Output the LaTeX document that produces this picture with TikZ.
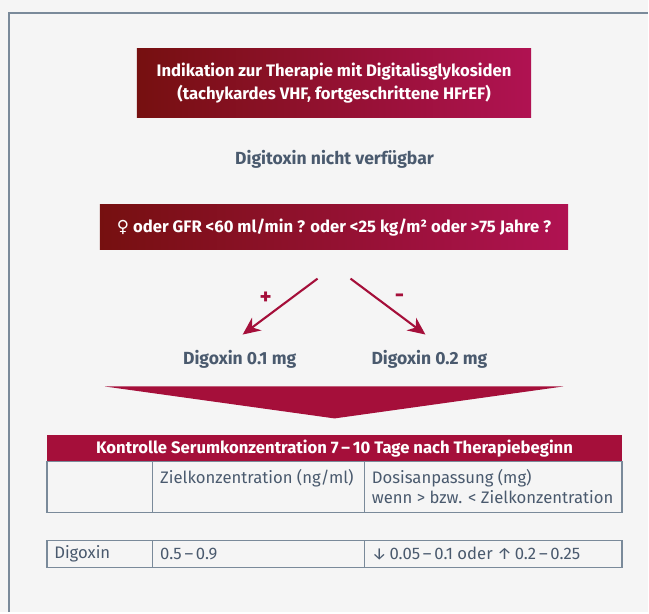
\documentclass[tikz,border=0pt]{standalone}
\usepackage{fontspec}
\setmainfont{Fira Sans}
\newfontfamily\symfont{DejaVu Sans}
\usepackage{tikz}
\usetikzlibrary{arrows.meta,positioning}
\usepackage{xcolor}
\definecolor{dgbg}{RGB}{245,245,245}
\definecolor{dgframe}{RGB}{122,138,154}
\definecolor{dgdark}{RGB}{118,16,16}
\definecolor{dgmagenta}{RGB}{176,18,82}
\definecolor{dgcrimson}{RGB}{165,15,58}
\definecolor{dggray}{RGB}{74,90,110}
\tikzstyle{arrow} = [line width=1.2pt,-{Stealth[length=10pt,width=9pt]},color=dgcrimson]
\tikzstyle{redbox} = [rectangle, left color=dgdark, right color=dgmagenta, text=white, font=\bfseries\fontsize{9.5}{13}\selectfont, align=center, inner sep=0pt]
\tikzstyle{graytext} = [text=dggray, font=\bfseries\fontsize{10}{12}\selectfont]
\tikzstyle{sign} = [text=dgcrimson, font=\bfseries\fontsize{13}{14}\selectfont]
\tikzstyle{cell} = [draw=dgframe, line width=0.8pt]
\tikzstyle{celltext} = [text=dggray, font=\fontsize{9.5}{11.5}\selectfont, align=left, inner sep=0pt]

\begin{document}
\begin{tikzpicture}[x=0.02cm, y=-0.02cm]
    % Background and frame
    \fill[dgbg] (0,0) rectangle (649,613);
    \draw[dgframe, line width=1pt] (9,613) -- (9,13) -- (649,13);

    % Indication
    \node[redbox, minimum width=7.9cm, minimum height=1.38cm] (indik) at (334.5,83.5) {Indikation zur Therapie mit Digitalisglykosiden\\(tachykardes VHF, fortgeschrittene HFrEF)};
    \node[graytext] (digitoxin) at (335,160) {Digitoxin nicht verfügbar};
    \node[redbox, minimum width=9.38cm, minimum height=0.9cm] (frage) at (334.5,227.5) {{\symfont ♀} oder GFR <60 ml/min ? oder <25 kg/m² oder >75 Jahre ?};

    % Branches
    \coordinate (lstart) at (318,279);
    \coordinate (lend) at (243,335);
    \coordinate (rstart) at (351,279);
    \coordinate (rend) at (426,335);
    \draw[arrow] (lstart) -- (lend);
    \draw[arrow] (rstart) -- (rend);
    \node[sign] (plus) at (266,299) {+};
    \node[sign] (minus) at (400,299) {-};
    \node[graytext] (dig1) at (240,360) {Digoxin 0.1 mg};
    \node[graytext] (dig2) at (430,360) {Digoxin 0.2 mg};

    % Funnel
    \fill[dgcrimson] (105,387) -- (564,387) -- (335,419) -- cycle;

    % Table
    \node[fill=dgcrimson, text=white, font=\bfseries\fontsize{9.5}{12}\selectfont, minimum width=11.52cm, minimum height=0.52cm, inner sep=0pt] (kopf) at (335,449) {Kontrolle Serumkonzentration 7\,–\,10 Tage nach Therapiebeginn};
    \draw[cell] (47,462) rectangle (623,513);
    \draw[cell] (153,462) -- (153,513);
    \draw[cell] (365,462) -- (365,513);
    \node[celltext, anchor=north west] (ziel) at (160,470) {Zielkonzentration (ng/ml)};
    \node[celltext, anchor=north west] (dosis) at (372,470) {Dosisanpassung (mg)\\wenn > bzw. < Zielkonzentration};

    \draw[cell] (47,541) rectangle (623,568);
    \draw[cell] (153,541) -- (153,568);
    \draw[cell] (365,541) -- (365,568);
    \node[celltext, anchor=west] (digoxin) at (54,554.5) {Digoxin};
    \node[celltext, anchor=west] (zielwert) at (160,554.5) {0.5\,–\,0.9};
    \node[celltext, anchor=west] (dosiswert) at (372,554.5) {↓\,0.05\,–\,0.1 oder ↑\,0.2\,–\,0.25};
\end{tikzpicture}
\end{document}
